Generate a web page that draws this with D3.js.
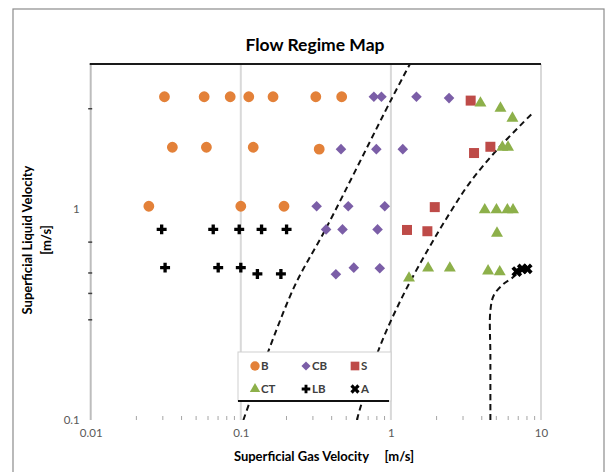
<!DOCTYPE html>
<html>
<head>
<meta charset="utf-8">
<title>Flow Regime Map</title>
<script src="https://d3js.org/d3.v7.min.js"></script>
<style>
    body { margin: 0; background: #fff; }
    svg text { font-family: Lato, "Liberation Sans", sans-serif; }
    .tick-label { font-size: 11.5px; fill: #595959; }
    .axis-title { font-size: 13px; font-weight: bold; fill: #000; white-space: pre; }
    .legend-text { font-size: 11.5px; font-weight: bold; fill: #404040; }
</style>
</head>
<body>
<div id="chart"></div>
<script>
// superficial gas velocity, superficial liquid velocity [m/s]
var pointsB = [[0.031,3.4],[0.057,3.4],[0.085,3.4],[0.113,3.4],[0.164,3.4],[0.316,3.4],[0.47,3.4],
    [0.035,1.96],[0.059,1.96],[0.121,1.96],[0.333,1.92],
    [0.0244,1.03],[0.1,1.03],[0.194,1.03]];
var pointsCB = [[0.77,3.4],[0.865,3.4],[1.48,3.4],[2.44,3.35],
    [0.465,1.92],[0.80,1.92],[1.2,1.92],
    [0.32,1.03],[0.52,1.03],[0.91,1.03],
    [0.37,0.80],[0.476,0.80],[0.815,0.80],
    [0.43,0.49],[0.566,0.527],[0.843,0.524]];
var pointsS = [[3.40,3.26],[3.58,1.84],[4.6,1.97],[1.96,1.02],[1.28,0.795],[1.75,0.784]];
var pointsCT = [[3.95,3.17],[5.37,3.0],[6.45,2.69],[5.53,1.96],[6.03,1.96],
    [4.22,0.99],[5.05,0.99],[5.97,0.99],[6.51,0.99],[5.09,0.767],
    [1.32,0.47],[1.77,0.524],[2.47,0.524],[4.44,0.508],[5.31,0.503]];
var pointsLB = [[0.0297,0.80],[0.0655,0.80],[0.0976,0.80],[0.1375,0.80],[0.2018,0.80],
    [0.0313,0.527],[0.0707,0.527],[0.1,0.527],[0.129,0.492],[0.185,0.492]];
var pointsA = [[6.9,0.505],[7.5,0.52],[8.1,0.52]];

// regime boundaries (dashed)
var boundary1 = [[0.104,0.1],[0.222,0.413],[0.374,0.822],[1.01,3.32],[1.34,4.86]];
var boundary2 = [[0.593,0.1],[0.818,0.21],[1.18,0.378],[1.76,0.639],[2.47,0.957],[3.35,1.33],[5.07,1.9],[8.81,2.85]];
var boundary3 = [[4.6,0.1],[4.6,0.2],[4.6,0.33],[4.85,0.39],[5.6,0.44],[6.4,0.47],[7.1,0.50]];

var xTicks = [0.01, 0.1, 1, 10];
var xTickLabels = ["0.01", "0.1", "1", "10"];
var yTicks = [0.1, 1];
var yTickLabels = ["0.1", "1"];
var yMinorTicks = [3, 0.7, 0.5, 0.4, 0.3];
var legendNames = ["B", "CB", "S", "CT", "LB", "A"];

var width = 616, height = 472;
var plot = { left: 90.7, right: 541, top: 64, bottom: 420 };

var svg = d3.select("#chart").append("svg")
    .attr("width", width)
    .attr("height", height);

// outer chart frame
svg.append("rect")
    .attr("x", 13).attr("y", 9)
    .attr("width", 591).attr("height", 480)
    .attr("fill", "none")
    .attr("stroke", "#8c8c8c")
    .attr("stroke-width", 1.2);

var xScale = d3.scaleLog().domain([0.01, 10]).range([plot.left, plot.right]);
var yScale = d3.scaleLog().domain([0.1, 4.86]).range([plot.bottom, plot.top]);

svg.append("clipPath").attr("id", "clip")
    .append("rect")
    .attr("x", plot.left).attr("y", plot.top)
    .attr("width", plot.right - plot.left).attr("height", plot.bottom - plot.top);

// vertical gridlines + left axis line
svg.selectAll(".grid")
    .data(xTicks)
    .enter()
    .append("line")
    .attr("class", "grid")
    .attr("x1", function(d) { return xScale(d); })
    .attr("x2", function(d) { return xScale(d); })
    .attr("y1", plot.top)
    .attr("y2", plot.bottom)
    .attr("stroke", function(d, i) { return i == 0 ? "#bdbdbd" : "#d9d9d9"; })
    .attr("stroke-width", 2);

// x minor ticks
var xMinor = [];
[0.01, 0.1, 1].forEach(function(dec) {
    for (var k = 2; k <= 9; k++) xMinor.push(dec * k);
});
svg.append("g")
    .attr("transform", "translate(0," + plot.bottom + ")")
    .call(d3.axisBottom(xScale).tickValues(xMinor).tickSize(-4).tickFormat(""))
    .call(function(g) {
        g.select(".domain").remove();
        g.selectAll("line").attr("stroke", "#a6a6a6");
    });

// x labels
svg.append("g")
    .attr("transform", "translate(0," + plot.bottom + ")")
    .call(d3.axisBottom(xScale).tickValues(xTicks).tickSize(0).tickPadding(9)
        .tickFormat(function(d, i) { return xTickLabels[i]; }))
    .call(function(g) {
        g.select(".domain").remove();
        g.selectAll("text").attr("class", "tick-label").attr("font-family", null).attr("font-size", null);
    });

// y labels
svg.append("g")
    .attr("transform", "translate(" + plot.left + ",0)")
    .call(d3.axisLeft(yScale).tickValues(yTicks).tickSize(0).tickPadding(11)
        .tickFormat(function(d, i) { return yTickLabels[i]; }))
    .call(function(g) {
        g.select(".domain").remove();
        g.selectAll("text").attr("class", "tick-label").attr("font-family", null).attr("font-size", null);
    });

// y minor ticks
svg.append("g")
    .attr("transform", "translate(" + (plot.left + 1.5) + ",0)")
    .call(d3.axisLeft(yScale).tickValues(yMinorTicks).tickSize(4).tickFormat(""))
    .call(function(g) {
        g.select(".domain").remove();
        g.selectAll("line").attr("stroke", "#404040").attr("stroke-width", 1.5);
    });

// dashed boundaries
var line = d3.line()
    .x(function(d) { return xScale(d[0]); })
    .y(function(d) { return yScale(d[1]); })
    .curve(d3.curveCatmullRom.alpha(0.5));

svg.append("g")
    .attr("clip-path", "url(#clip)")
    .selectAll("path")
    .data([boundary1, boundary2, boundary3])
    .enter()
    .append("path")
    .attr("d", line)
    .attr("fill", "none")
    .attr("stroke", "#111")
    .attr("stroke-width", 2)
    .attr("stroke-dasharray", "6,4");

// markers
var markers = {
    B:  { sym: d3.symbolCircle, size: 92, fill: "#e38139", rot: 0 },
    CB: { sym: d3.symbolSquare, size: 56, fill: "#7b5ea7", rot: 45 },
    S:  { sym: d3.symbolSquare, size: 100, fill: "#be4b48", rot: 0 },
    CT: { sym: d3.symbolTriangle, size: 62, fill: "#8db04a", rot: 0 },
    LB: { sym: d3.symbolCross, size: 55, fill: "#000", rot: 0 },
    A:  { sym: d3.symbolCross, size: 72, fill: "#000", rot: 45 }
};
var seriesData = { B: pointsB, CB: pointsCB, S: pointsS, CT: pointsCT, LB: pointsLB, A: pointsA };

legendNames.forEach(function(name) {
    var m = markers[name];
    svg.append("g")
        .selectAll("path")
        .data(seriesData[name])
        .enter()
        .append("path")
        .attr("d", d3.symbol().type(m.sym).size(m.size))
        .attr("fill", m.fill)
        .attr("transform", function(d) {
            return "translate(" + xScale(d[0]) + "," + yScale(d[1]) + ") rotate(" + m.rot + ")";
        });
});

// legend
var legend = svg.append("g");
legend.append("rect")
    .attr("x", 238).attr("y", 352)
    .attr("width", 153).attr("height", 49)
    .attr("fill", "#fff")
    .attr("stroke", "#d0d0d0")
    .attr("stroke-width", 1);
legend.append("line")
    .attr("x1", 238).attr("x2", 389)
    .attr("y1", 401).attr("y2", 401)
    .attr("stroke", "#111")
    .attr("stroke-width", 2);

var legendX = [255, 306, 355];
var legendY = [366, 389];
legendNames.forEach(function(name, i) {
    var m = markers[name];
    var cx = legendX[i % 3], cy = legendY[Math.floor(i / 3)];
    legend.append("path")
        .attr("d", d3.symbol().type(m.sym).size(m.size * 0.75))
        .attr("fill", m.fill)
        .attr("transform", "translate(" + cx + "," + cy + ") rotate(" + m.rot + ")");
    legend.append("text")
        .attr("class", "legend-text")
        .attr("x", cx + 6)
        .attr("y", cy + 4)
        .text(name);
});

// top border of plot area
svg.append("line")
    .attr("x1", plot.left - 1).attr("x2", plot.right)
    .attr("y1", plot.top).attr("y2", plot.top)
    .attr("stroke", "#1a1a1a")
    .attr("stroke-width", 2);

// titles
svg.append("text")
    .attr("x", 315)
    .attr("y", 51)
    .attr("text-anchor", "middle")
    .style("font-size", "17.5px")
    .style("font-weight", "bold")
    .text("Flow Regime Map");

svg.append("text")
    .attr("class", "axis-title")
    .attr("x", 324)
    .attr("y", 461)
    .attr("text-anchor", "middle")
    .text("Superficial Gas Velocity     [m/s]");

var yTitle = svg.append("g")
    .attr("transform", "translate(32,240) rotate(-90)");
yTitle.append("text")
    .attr("class", "axis-title")
    .attr("text-anchor", "middle")
    .text("Superficial Liquid Velocity");
yTitle.append("text")
    .attr("class", "axis-title")
    .attr("text-anchor", "middle")
    .attr("y", 19)
    .text("[m/s]");
</script>
</body>
</html>
